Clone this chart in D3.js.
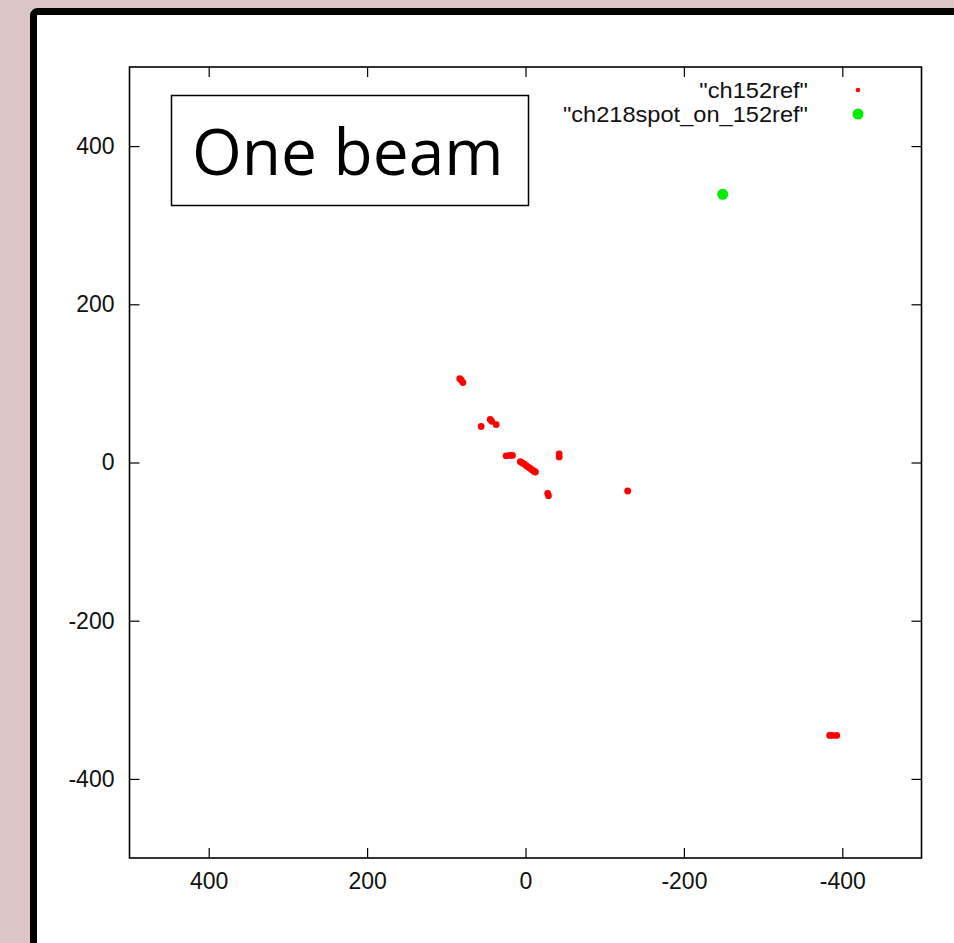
<!DOCTYPE html>
<html>
<head>
<meta charset="utf-8">
<script src="https://cdn.jsdelivr.net/npm/d3@7"></script>
<style>
  html, body { margin: 0; padding: 0; background: #dcc5c6; }
  svg { display: block; }
</style>
</head>
<body>
<svg id="chart" width="954" height="943"></svg>
<script>
// Reference spot positions (ch152ref)
const refX = [83, 79, 81, 56, 44.5, 42.5, 37, 24.5, 20, 16.5, 6.5, 4, 1.5, -1, -3.5, -6, -8.5, -10.5, -12.5, -42.5, -42.5, -28, -29, -129, -384, -388, -393];
const refY = [106, 101, 104, 45.5, 54.5, 52, 48, 8.5, 9, 9, 1, -0.5, -2, -4, -6, -7.5, -9.5, -11, -12, 11, 7, -39, -42, -36, -345, -345, -345];
// Spot measured on channel 218 in the same frame
const spotX = [-249];
const spotY = [339];

const xTicks = [400, 200, 0, -200, -400];
const yTicks = [400, 200, 0, -200, -400];
const seriesNames = ['"ch152ref"', '"ch218spot_on_152ref"'];
const seriesColors = ["#ff0000", "#00ee00"];
const titleText = "One beam";

const svg = d3.select("#chart");

// white panel with heavy frame, running off the right/bottom edges
svg.append("rect")
  .attr("x", 33.5).attr("y", 11.5)
  .attr("width", 960).attr("height", 960)
  .attr("rx", 4)
  .attr("fill", "#ffffff")
  .attr("stroke", "#000").attr("stroke-width", 7);

const plot = { left: 129.5, right: 921.5, top: 67, bottom: 858 };

const x = d3.scaleLinear().domain([500, -500]).range([plot.left, plot.right]);
const y = d3.scaleLinear().domain([-500, 500]).range([plot.bottom, plot.top]);

const font = "'Liberation Sans', Arial, Helvetica, sans-serif";
const plain = d => String(d); // ASCII hyphen for negatives

// axes with inward ticks on all four sides
const tickLen = 10;
const axes = [
  { ax: d3.axisBottom(x).tickValues(xTicks).tickSize(-tickLen).tickPadding(15).tickFormat(plain), t: `translate(0,${plot.bottom})` },
  { ax: d3.axisTop(x).tickValues(xTicks).tickSize(-tickLen).tickFormat(""), t: `translate(0,${plot.top})` },
  { ax: d3.axisLeft(y).tickValues(yTicks).tickSize(-tickLen).tickPadding(15).tickFormat(plain), t: `translate(${plot.left},0)` },
  { ax: d3.axisRight(y).tickValues(yTicks).tickSize(-tickLen).tickFormat(""), t: `translate(${plot.right},0)` }
];
axes.forEach(a => {
  const g = svg.append("g").attr("transform", a.t).call(a.ax);
  g.select(".domain").remove();
  g.selectAll(".tick line").attr("stroke", "#000").attr("stroke-width", 1.2);
  g.selectAll(".tick text")
    .attr("font-family", font).attr("font-size", 23).attr("fill", "#111");
});

// plot frame
svg.append("rect")
  .attr("x", plot.left).attr("y", plot.top)
  .attr("width", plot.right - plot.left).attr("height", plot.bottom - plot.top)
  .attr("fill", "none").attr("stroke", "#000").attr("stroke-width", 1.6);

// reference spots
svg.append("g").selectAll("circle")
  .data(d3.range(refX.length))
  .join("circle")
  .attr("cx", i => x(refX[i]))
  .attr("cy", i => y(refY[i]))
  .attr("r", 3.4)
  .attr("fill", seriesColors[0]);

// measured spot
svg.append("g").selectAll("circle")
  .data(d3.range(spotX.length))
  .join("circle")
  .attr("cx", i => x(spotX[i]))
  .attr("cy", i => y(spotY[i]))
  .attr("r", 5.5)
  .attr("fill", seriesColors[1]);

// legend
const legend = svg.append("g");
const legendRows = [{ r: 2.3 }, { r: 5.5 }];
legendRows.forEach((row, i) => {
  const cy = 90 + i * 24;
  legend.append("text")
    .attr("x", 808).attr("y", cy)
    .attr("dy", "0.35em")
    .attr("text-anchor", "end")
    .attr("font-family", font).attr("font-size", 22.5).attr("fill", "#111")
    .attr("transform", `translate(808,${cy}) scale(1.05,1) translate(-808,${-cy})`)
    .text(seriesNames[i]);
  legend.append("circle")
    .attr("cx", 858).attr("cy", cy).attr("r", row.r)
    .attr("fill", seriesColors[i]);
});

// title box
svg.append("rect")
  .attr("x", 171.5).attr("y", 95.5)
  .attr("width", 357).attr("height", 110)
  .attr("fill", "#fff").attr("stroke", "#000").attr("stroke-width", 1.5);
svg.append("text")
  .attr("x", 192).attr("y", 175)
  .attr("font-family", "'Open Sans', 'Noto Sans', sans-serif")
  .attr("font-size", 64)
  .attr("fill", "#000")
  .text(titleText);
</script>
</body>
</html>
